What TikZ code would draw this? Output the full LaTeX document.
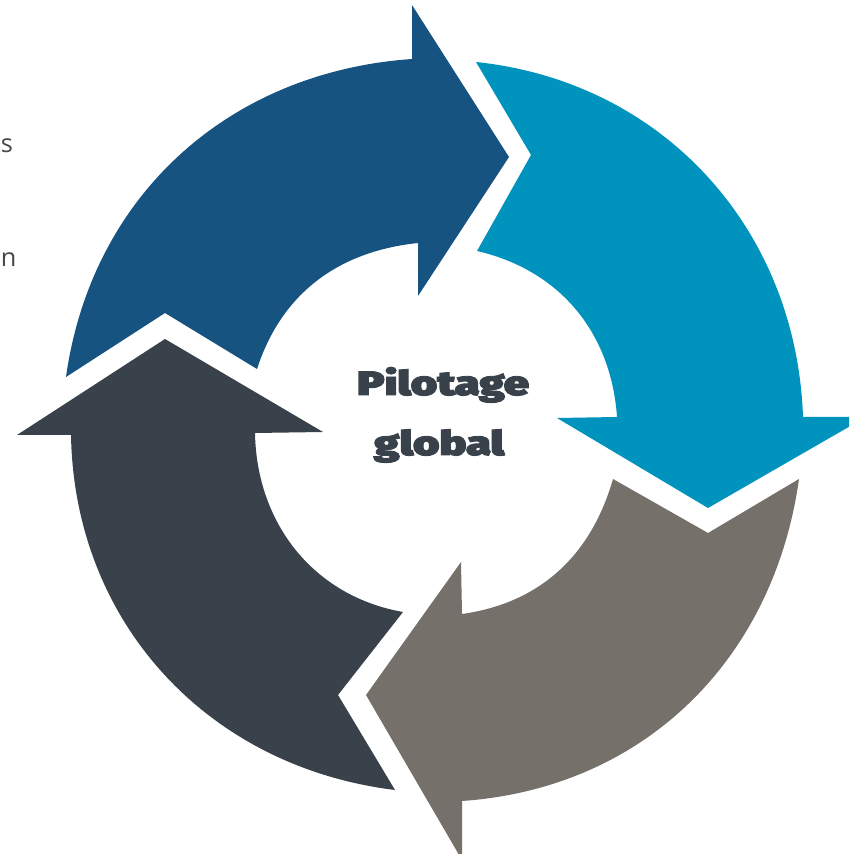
\documentclass[tikz,border=0pt]{standalone}
\usepackage{xcolor}
\usepackage{fontspec}
\setmainfont{Open Sans}
\newfontfamily\pilotfont{Fira Sans Black}[FakeBold=2.5]
\usepackage{tikz}
\definecolor{cycblue}{RGB}{22,83,129}
\definecolor{cyccyan}{RGB}{0,147,190}
\definecolor{cycgrey}{RGB}{117,113,106}
\definecolor{cycslate}{RGB}{57,66,75}
\newcommand{\widetitle}[1]{\scalebox{1.34}[1]{#1}}
\tikzset{
  ttl/.style={text=cycslate, inner sep=0, font=\pilotfont\fontsize{24}{28}\selectfont},
  side/.style={text=black!72, inner sep=0, font=\fontsize{18}{21}\selectfont}
}

\begin{document}
\begin{tikzpicture}[x=0.025cm, y=0.025cm]
    \clip (0,0) rectangle (849,854);
    % the four arrows of the cycle
    \fill[cycblue] (66,477) to[out=82,in=184] (412,795) -- (412,849) -- (509,697) -- (418,558) -- (418,611)
      to[out=186,in=72] (257,485) -- (165,541) -- cycle;
    \fill[cyccyan] (476,792) to[out=-6,in=92] (803,437) -- (866,437) -- (708,346) -- (557,436) -- (617,437)
      to[out=94,in=-13] (477,603) -- (531,699) -- cycle;
    \fill[cycgrey] (799,375) to[out=-98,in=4] (462,53) -- (462,-6) -- (366,159) -- (461,292) -- (462,240)
      to[out=8,in=-106] (613,375) -- (708,321) -- cycle;
    \fill[cycslate] (395,64) to[out=173,in=271] (71,419) -- (17,419) -- (165,515) -- (323,422) -- (255,421)
      to[out=271,in=170] (403,242) -- (338,159) -- cycle;
    \node[ttl, anchor=base] (pilot) at (443,459) {\widetitle{Pilotage}};
    \node[ttl, anchor=base] (glob) at (439,399) {\widetitle{global}};
    \node[side, anchor=base west] (sfrag) at (0.5,701) {s};
    \node[side, anchor=base west] (nfrag) at (0.5,587) {n};
\end{tikzpicture}
\end{document}
